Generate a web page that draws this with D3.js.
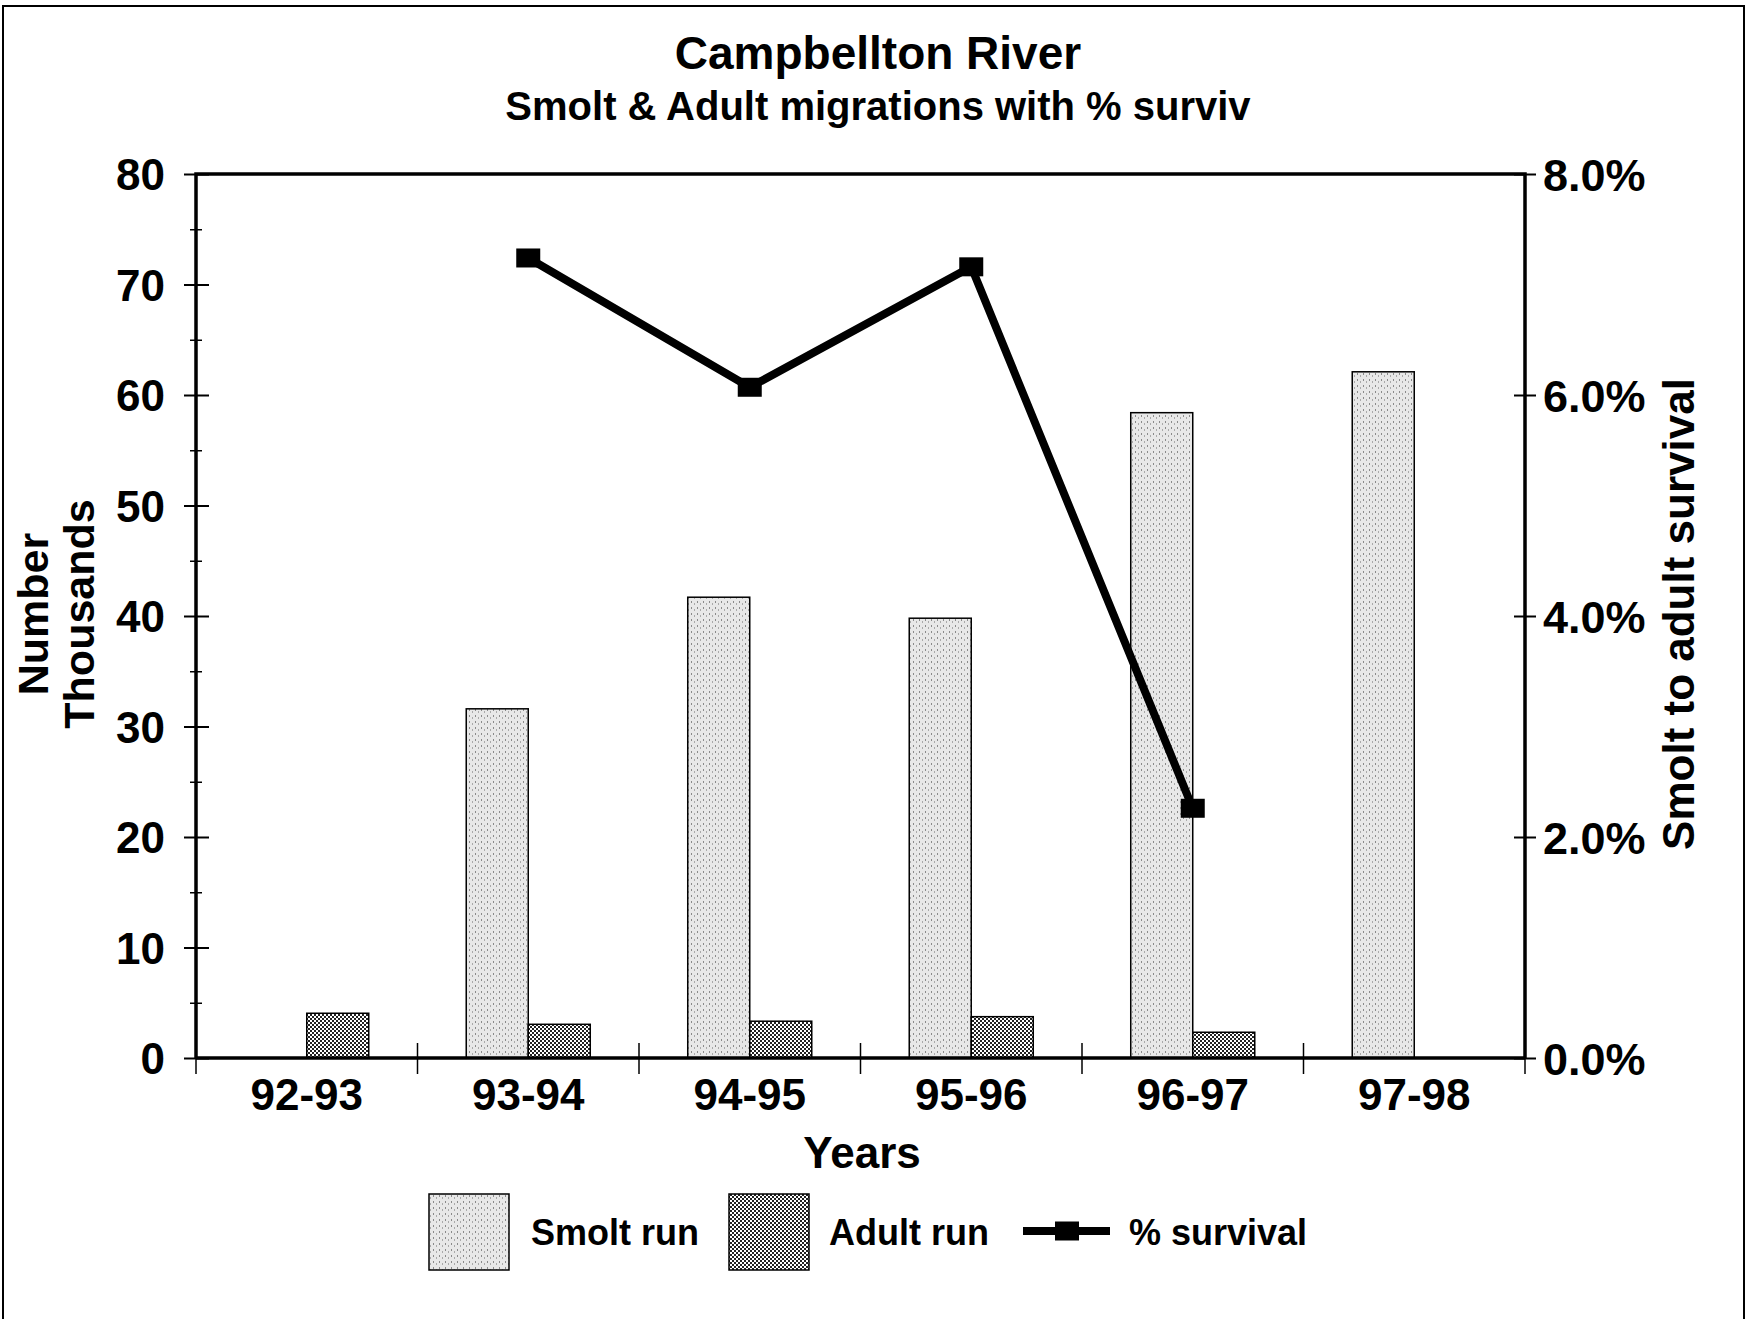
<!DOCTYPE html>
<html>
<head>
<meta charset="utf-8">
<script src="https://d3js.org/d3.v7.min.js"></script>
<style>
  body { margin: 0; background: #fff; }
  svg { display: block; }
  text { font-family: "Liberation Sans", Arial, sans-serif; font-weight: bold; fill: #000; }
  .domain { display: none; }
</style>
</head>
<body>
<svg width="1748" height="1319"></svg>
<script>
// values
var years = ['92-93', '93-94', '94-95', '95-96', '96-97', '97-98'];
var smoltRun = [null, 31.6, 41.7, 39.8, 58.4, 62.1];       // thousands
var adultRun = [4.05, 3.05, 3.33, 3.74, 2.33, null];       // thousands
var survival = [null, 0.0724, 0.0607, 0.0716, 0.0226, null];
var leftTicks = [0, 10, 20, 30, 40, 50, 60, 70, 80];
var leftMinor = [5, 15, 25, 35, 45, 55, 65, 75];
var rightTicks = [0, 0.02, 0.04, 0.06, 0.08];

var svg = d3.select('svg');
var L = 196, R = 1525, T = 174, B = 1058;

// patterns for the scanned fills
var defs = svg.append('defs');
var ps = defs.append('pattern').attr('id', 'smolt').attr('patternUnits', 'userSpaceOnUse')
  .attr('width', 6).attr('height', 6);
ps.append('rect').attr('width', 6).attr('height', 6).attr('fill', '#e8e8e8');
ps.append('rect').attr('x', 1).attr('y', 1).attr('width', 1).attr('height', 2).attr('fill', '#8a8a8a');
ps.append('rect').attr('x', 4).attr('y', 3).attr('width', 1).attr('height', 2).attr('fill', '#aaa');
var pa = defs.append('pattern').attr('id', 'adult').attr('patternUnits', 'userSpaceOnUse')
  .attr('width', 4).attr('height', 4);
pa.append('rect').attr('width', 4).attr('height', 4).attr('fill', '#fff');
pa.append('rect').attr('width', 2).attr('height', 2).attr('fill', '#222');
pa.append('rect').attr('x', 2).attr('y', 2).attr('width', 2).attr('height', 2).attr('fill', '#222');

// outer frame
svg.append('rect').attr('x', 3).attr('y', 6).attr('width', 1741).attr('height', 1330)
  .attr('fill', 'none').attr('stroke', '#000').attr('stroke-width', 2);

var x = d3.scaleBand().domain(years).range([L, R]);
var x1 = d3.scaleBand().domain(['smolt', 'adult']).range([0, x.bandwidth()]).paddingOuter(0.786);
var y = d3.scaleLinear().domain([0, 80]).range([B, T]);
var y2 = d3.scaleLinear().domain([0, 0.08]).range([B, T]);

// bars
var g = svg.append('g');
g.selectAll('.smolt').data(years.filter(function(d, i) { return smoltRun[i] != null; }))
  .enter().append('rect')
  .attr('x', function(d) { return x(d) + x1('smolt'); })
  .attr('y', function(d) { return y(smoltRun[years.indexOf(d)]); })
  .attr('width', x1.bandwidth())
  .attr('height', function(d) { return B - y(smoltRun[years.indexOf(d)]); })
  .attr('fill', 'url(#smolt)').attr('stroke', '#000').attr('stroke-width', 1.5);
g.selectAll('.adult').data(years.filter(function(d, i) { return adultRun[i] != null; }))
  .enter().append('rect')
  .attr('x', function(d) { return x(d) + x1('adult'); })
  .attr('y', function(d) { return y(adultRun[years.indexOf(d)]); })
  .attr('width', x1.bandwidth())
  .attr('height', function(d) { return B - y(adultRun[years.indexOf(d)]); })
  .attr('fill', 'url(#adult)').attr('stroke', '#000').attr('stroke-width', 1.5);

// plot frame
svg.append('path').attr('d', 'M' + L + ',' + B + 'V' + T + 'H' + R + 'V' + B)
  .attr('fill', 'none').attr('stroke', '#000').attr('stroke-width', 3.5);

// left axis
var ax = svg.append('g').attr('transform', 'translate(' + L + ',0)')
  .call(d3.axisLeft(y).tickValues(leftTicks).tickSize(0).tickPadding(31));
ax.selectAll('text').style('font-size', '44px').attr('dy', '0.36em');
ax.selectAll('.tick').append('line').attr('x1', -12).attr('x2', 13).attr('stroke', '#000').attr('stroke-width', 2);
svg.append('g').attr('transform', 'translate(' + L + ',0)')
  .call(d3.axisLeft(y).tickValues(leftMinor).tickSize(0).tickFormat(''))
  .selectAll('.tick').append('line').attr('x1', -6).attr('x2', 6).attr('stroke', '#000').attr('stroke-width', 1.5);

// right axis
var ar = svg.append('g').attr('transform', 'translate(' + R + ',0)')
  .call(d3.axisRight(y2).tickValues(rightTicks).tickSize(0).tickPadding(18).tickFormat(d3.format('.1%')));
ar.selectAll('text').style('font-size', '45px').attr('dy', '0.36em');
ar.selectAll('.tick').append('line').attr('x1', -11).attr('x2', 11).attr('stroke', '#000').attr('stroke-width', 2);

// bottom axis
var ab = svg.append('g').attr('transform', 'translate(0,' + B + ')')
  .call(d3.axisBottom(x).tickSize(0).tickPadding(21));
ab.selectAll('text').style('font-size', '44px').attr('dy', '0.71em');
svg.append('line').attr('x1', L).attr('x2', R).attr('y1', B).attr('y2', B).attr('stroke', '#000').attr('stroke-width', 3.5);
svg.append('g').selectAll('line').data(d3.range(years.length + 1)).enter().append('line')
  .attr('x1', function(i) { return L + i * x.step(); })
  .attr('x2', function(i) { return L + i * x.step(); })
  .attr('y1', B - 15).attr('y2', B + 16).attr('stroke', '#000').attr('stroke-width', 1.5);

// survival line
var pts = years.map(function(d, i) { return { yr: d, v: survival[i] }; }).filter(function(p) { return p.v != null; });
var cx = function(p) { return x(p.yr) + x.bandwidth() / 2; };
svg.append('path').datum(pts)
  .attr('d', d3.line().x(cx).y(function(p) { return y2(p.v); }))
  .attr('fill', 'none').attr('stroke', '#000').attr('stroke-width', 8).attr('stroke-linejoin', 'round');
svg.selectAll('.mk').data(pts).enter().append('rect')
  .attr('x', function(p) { return cx(p) - 12; })
  .attr('y', function(p) { return y2(p.v) - 9.5; })
  .attr('width', 24).attr('height', 19).attr('fill', '#000');

// titles
svg.append('text').attr('x', 878).attr('y', 69).attr('text-anchor', 'middle')
  .style('font-size', '46px').text('Campbellton River');
svg.append('text').attr('x', 878).attr('y', 120).attr('text-anchor', 'middle')
  .style('font-size', '40px').text('Smolt & Adult migrations with % surviv');
svg.append('text').attr('x', 862).attr('y', 1168).attr('text-anchor', 'middle')
  .style('font-size', '44px').text('Years');
var yt = svg.append('text').attr('transform', 'translate(48,614) rotate(-90)').attr('text-anchor', 'middle')
  .style('font-size', '43px');
yt.append('tspan').attr('x', 0).attr('dy', 0).text('Number');
yt.append('tspan').attr('x', 0).attr('dy', 46).text('Thousands');
svg.append('text').attr('transform', 'translate(1694,614) rotate(-90)').attr('text-anchor', 'middle')
  .style('font-size', '44px').text('Smolt to adult survival');

// legend
var lg = svg.append('g');
lg.append('rect').attr('x', 429).attr('y', 1194).attr('width', 80).attr('height', 76)
  .attr('fill', 'url(#smolt)').attr('stroke', '#000').attr('stroke-width', 1.5);
lg.append('text').attr('x', 531).attr('y', 1245).style('font-size', '36px').text('Smolt run');
lg.append('rect').attr('x', 729).attr('y', 1194).attr('width', 80).attr('height', 76)
  .attr('fill', 'url(#adult)').attr('stroke', '#000').attr('stroke-width', 1.5);
lg.append('text').attr('x', 829).attr('y', 1245).style('font-size', '36px').text('Adult run');
lg.append('line').attr('x1', 1023).attr('x2', 1110).attr('y1', 1231).attr('y2', 1231)
  .attr('stroke', '#000').attr('stroke-width', 8);
lg.append('rect').attr('x', 1055).attr('y', 1221.5).attr('width', 24).attr('height', 19).attr('fill', '#000');
lg.append('text').attr('x', 1129).attr('y', 1245).style('font-size', '36px').text('% survival');
</script>
</body>
</html>
